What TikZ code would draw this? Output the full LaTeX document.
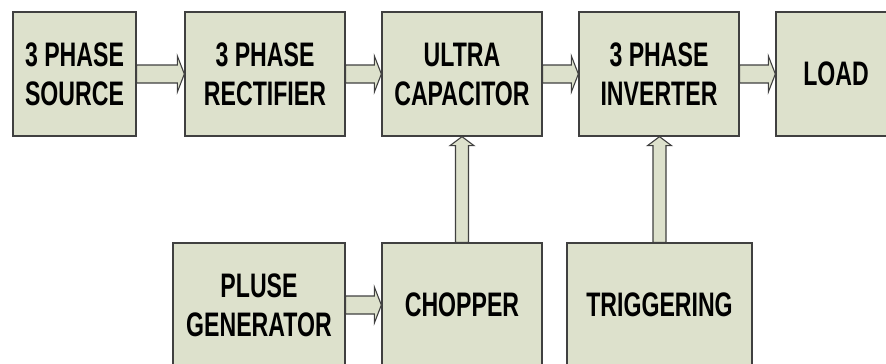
\documentclass[tikz,border=0pt]{standalone}
\usepackage{fontspec}
\usepackage{tikz}
\usepackage{xcolor}
\usetikzlibrary{calc}
\newfontfamily\boxfont[FakeStretch=0.68]{Liberation Sans Bold}
\definecolor{BlockFill}{RGB}{221, 225, 204}
\definecolor{BlockLine}{RGB}{64, 64, 64}
\tikzset{
    block/.style={draw=BlockLine, fill=BlockFill, line width=1.3pt, inner sep=0pt,
        minimum height=124pt, align=center,
        font=\boxfont\fontsize{34}{39}\selectfont},
    blockarrow/.style={draw=BlockLine, fill=BlockFill, line width=1.1pt, line join=miter}
}
\newcommand{\fatarrowright}[2]{%
  \draw[blockarrow] ($(#1.east)+(0,9)$) -- ($(#2.west |- #1.east)+(-7,9)$)
    -- ($(#2.west |- #1.east)+(-7,18)$) -- (#2.west |- #1.east)
    -- ($(#2.west |- #1.east)+(-7,-18)$) -- ($(#2.west |- #1.east)+(-7,-9)$)
    -- ($(#1.east)+(0,-9)$) -- cycle;}
\newcommand{\fatarrowup}[2]{%
  \draw[blockarrow] ($(#1.north)+(-6.5,0)$) -- ($(#1.north |- #2.south)+(-6.5,-9)$)
    -- ($(#1.north |- #2.south)+(-12,-9)$) -- (#1.north |- #2.south)
    -- ($(#1.north |- #2.south)+(12,-9)$) -- ($(#1.north |- #2.south)+(6.5,-9)$)
    -- ($(#1.north)+(6.5,0)$) -- cycle;}

\begin{document}
\begin{tikzpicture}[x=1pt, y=1pt]
\useasboundingbox (0,0) rectangle (886,-364);
\clip (0,0) rectangle (886,-364);
% top row
\node[block, minimum width=123pt] (source) at (74.5,-74) {3 PHASE\\SOURCE};
\node[block, minimum width=160pt] (rectifier) at (265,-74) {3 PHASE\\RECTIFIER};
\node[block, minimum width=160pt] (ucap) at (462,-74) {ULTRA\\CAPACITOR};
\node[block, minimum width=160pt] (inverter) at (659,-74) {3 PHASE\\INVERTER};
\node[block, minimum width=120pt] (load) at (836,-74) {LOAD};
% bottom row
\node[block, minimum width=172pt] (pulse) at (259,-305) {PLUSE\\GENERATOR};
\node[block, minimum width=160pt] (chopper) at (462,-305) {CHOPPER};
\node[block, minimum width=185pt] (trigger) at (659.5,-305) {TRIGGERING};

\fatarrowright{source}{rectifier}
\fatarrowright{rectifier}{ucap}
\fatarrowright{ucap}{inverter}
\fatarrowright{inverter}{load}
\fatarrowright{pulse}{chopper}
\fatarrowup{chopper}{ucap}
\fatarrowup{trigger}{inverter}
\end{tikzpicture}
\end{document}
